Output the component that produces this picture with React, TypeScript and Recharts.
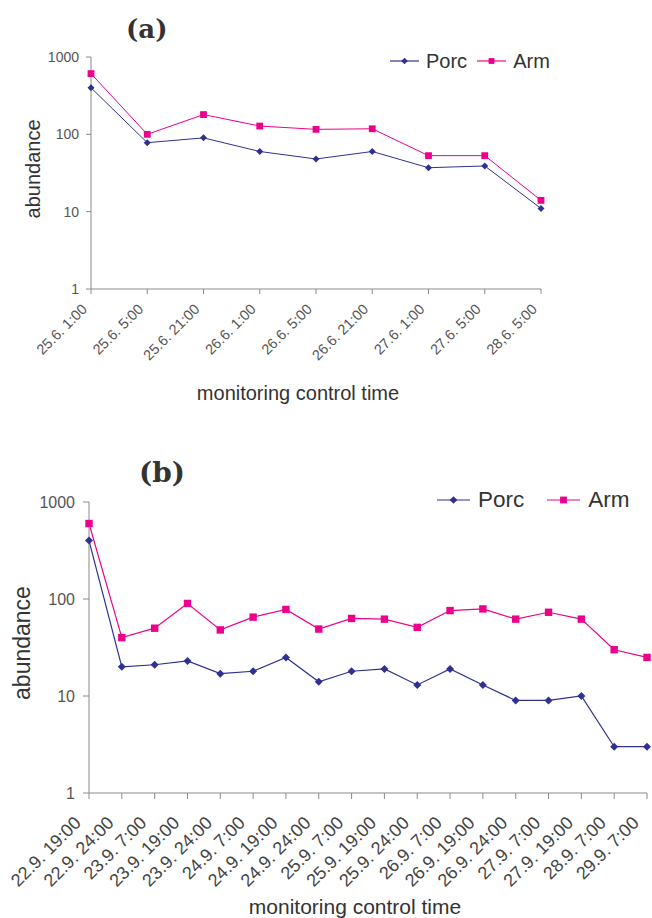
import React from "react";
import { CartesianGrid, Label, Legend, Line, LineChart, XAxis, YAxis } from "recharts";

// panel (a) - June monitoring
const timesA = [
  "25.6. 1:00",
  "25.6. 5:00",
  "25.6. 21:00",
  "26.6. 1:00",
  "26.6. 5:00",
  "26.6. 21:00",
  "27.6. 1:00",
  "27.6. 5:00",
  "28,6. 5:00",
];
const porcA = [400, 78, 90, 60, 48, 60, 37, 39, 11];
const armA = [610, 100, 180, 128, 116, 118, 53, 53, 14];

// panel (b) - September monitoring
const timesB = [
  "22.9. 19:00",
  "22.9. 24:00",
  "23.9. 7:00",
  "23.9. 19:00",
  "23.9. 24:00",
  "24.9. 7:00",
  "24.9. 19:00",
  "24.9. 24:00",
  "25.9. 7:00",
  "25.9. 19:00",
  "25.9. 24:00",
  "26.9. 7:00",
  "26.9. 19:00",
  "26.9. 24:00",
  "27.9. 7:00",
  "27.9. 19:00",
  "28.9. 7:00",
  "29.9. 7:00",
];
const porcB = [400, 20, 21, 23, 17, 18, 25, 14, 18, 19, 13, 19, 13, 9, 9, 10, 3, 3];
const armB = [600, 40, 50, 90, 48, 65, 78, 49, 63, 62, 51, 76, 79, 62, 73, 62, 30, 25];

const logTicks = [1, 10, 100, 1000];

const PORC = "#2E3192";
const ARM = "#EC008C";
const AXIS = "#8a8a8a";
const FONT = '"Liberation Sans", Arial, Helvetica, sans-serif';

const rowsA = timesA.map((t, i) => ({ time: t, Porc: porcA[i], Arm: armA[i] }));
const rowsB = timesB.map((t, i) => ({ time: t, Porc: porcB[i], Arm: armB[i] }));

const Diamond = ({ cx, cy, r, fill }: any) => (
  <path d={`M${cx},${cy - r}L${cx + r},${cy}L${cx},${cy + r}L${cx - r},${cy}Z`} fill={fill} />
);

const Square = ({ cx, cy, r, fill }: any) => (
  <rect x={cx - r} y={cy - r} width={r * 2} height={r * 2} fill={fill} />
);

const SlantTick = ({ x, y, payload, size, dx, dy, fill }: any) => (
  <g transform={`translate(${x + dx},${y + dy})`}>
    <text textAnchor="end" transform="rotate(-45)" fontSize={size} fill={fill} fontFamily={FONT}>
      {payload.value}
    </text>
  </g>
);

const LegendRow = ({ fontSize, iconW, gap, itemGap, r }: any) => {
  const items = [
    { name: "Porc", color: PORC, shape: "diamond" },
    { name: "Arm", color: ARM, shape: "square" },
  ];
  return (
    <div style={{ display: "flex", alignItems: "center", fontFamily: FONT, fontSize, color: "#333", lineHeight: 1 }}>
      {items.map((s, i) => (
        <div key={s.name} style={{ display: "flex", alignItems: "center", marginLeft: i ? itemGap : 0 }}>
          <svg width={iconW} height={12}>
            <line x1={0} y1={6} x2={iconW} y2={6} stroke={s.color} strokeWidth={1.2} />
            {s.shape === "diamond" ? (
              <Diamond cx={iconW / 2} cy={6} r={r} fill={s.color} />
            ) : (
              <Square cx={iconW / 2} cy={6} r={r - 0.4} fill={s.color} />
            )}
          </svg>
          <span style={{ marginLeft: gap }}>{s.name}</span>
        </div>
      ))}
    </div>
  );
};

const Title = ({ text, left, top, size }: any) => (
  <div
    style={{
      position: "absolute",
      left,
      top,
      fontFamily: '"DejaVu Serif", "Liberation Serif", serif',
      fontWeight: "bold",
      fontSize: size,
      color: "#333",
      lineHeight: 1,
    }}
  >
    {text}
  </div>
);

export default function App() {
  return (
    <div style={{ position: "absolute", left: 0, top: 0, width: 652, height: 918, background: "#fff" }}>
      {/* (a) */}
      <div style={{ position: "absolute", left: 0, top: 0 }}>
        <LineChart width={652} height={420} data={rowsA} margin={{ top: 57, right: 111, bottom: 0, left: 0 }}>
          <CartesianGrid stroke="none" />
          <XAxis
            dataKey="time"
            interval={0}
            height={131}
            stroke={AXIS}
            tickSize={5}
            tick={(p: any) => <SlantTick {...p} size={14.5} dx={-3} dy={14} fill="#555" />}
          >
            <Label
              content={() => (
                <text x={298} y={400} textAnchor="middle" fontSize={20} fill="#333" fontFamily={FONT}>
                  monitoring control time
                </text>
              )}
            />
          </XAxis>
          <YAxis
            scale="log"
            type="number"
            domain={[1, 1000]}
            ticks={logTicks}
            allowDataOverflow
            width={91}
            stroke={AXIS}
            tickSize={5}
            tickMargin={7}
            tick={{ fontSize: 14, fill: "#555", fontFamily: FONT }}
          >
            <Label
              content={() => (
                <text
                  x={40}
                  y={169}
                  transform="rotate(-90 40 169)"
                  textAnchor="middle"
                  fontSize={20}
                  fill="#333"
                  fontFamily={FONT}
                >
                  abundance
                </text>
              )}
            />
          </YAxis>
          <Legend
            layout="horizontal"
            verticalAlign="middle"
            wrapperStyle={{ left: 390, top: 51, width: "auto" }}
            content={() => <LegendRow fontSize={20} iconW={29} gap={7} itemGap={10} r={3.3} />}
          />
          <Line
            dataKey="Porc"
            stroke={PORC}
            strokeWidth={1}
            isAnimationActive={false}
            dot={(p: any) => <Diamond key={`pa${p.index}`} cx={p.cx} cy={p.cy} r={3.5} fill={PORC} />}
          />
          <Line
            dataKey="Arm"
            stroke={ARM}
            strokeWidth={1}
            isAnimationActive={false}
            dot={(p: any) => <Square key={`aa${p.index}`} cx={p.cx} cy={p.cy} r={3.4} fill={ARM} />}
          />
        </LineChart>
        <Title text="(a)" left={126} top={16} size={26} />
      </div>

      {/* (b) */}
      <div style={{ position: "absolute", left: 0, top: 430 }}>
        <LineChart width={652} height={488} data={rowsB} margin={{ top: 72, right: 5, bottom: 0, left: 0 }}>
          <CartesianGrid stroke="none" />
          <XAxis
            dataKey="time"
            interval={0}
            height={125}
            stroke={AXIS}
            tickSize={6}
            tick={(p: any) => <SlantTick {...p} size={18} dx={-7} dy={23} fill="#444" />}
          >
            <Label
              content={() => (
                <text x={355} y={484} textAnchor="middle" fontSize={21} fill="#333" fontFamily={FONT}>
                  monitoring control time
                </text>
              )}
            />
          </XAxis>
          <YAxis
            scale="log"
            type="number"
            domain={[1, 1000]}
            ticks={logTicks}
            allowDataOverflow
            width={89}
            stroke={AXIS}
            tickSize={6}
            tickMargin={8}
            tick={{ fontSize: 16, fill: "#555", fontFamily: FONT }}
          >
            <Label
              content={() => (
                <text
                  x={30}
                  y={213}
                  transform="rotate(-90 30 213)"
                  textAnchor="middle"
                  fontSize={23}
                  fill="#333"
                  fontFamily={FONT}
                >
                  abundance
                </text>
              )}
            />
          </YAxis>
          <Legend
            layout="horizontal"
            verticalAlign="middle"
            wrapperStyle={{ left: 437, top: 59, width: "auto" }}
            content={() => <LegendRow fontSize={22.5} iconW={33} gap={8} itemGap={23} r={3.8} />}
          />
          <Line
            dataKey="Porc"
            stroke={PORC}
            strokeWidth={1.2}
            isAnimationActive={false}
            dot={(p: any) => <Diamond key={`pb${p.index}`} cx={p.cx} cy={p.cy} r={4} fill={PORC} />}
          />
          <Line
            dataKey="Arm"
            stroke={ARM}
            strokeWidth={1.2}
            isAnimationActive={false}
            dot={(p: any) => <Square key={`ab${p.index}`} cx={p.cx} cy={p.cy} r={3.7} fill={ARM} />}
          />
        </LineChart>
        <Title text="(b)" left={139} top={29} size={28} />
      </div>
    </div>
  );
}
